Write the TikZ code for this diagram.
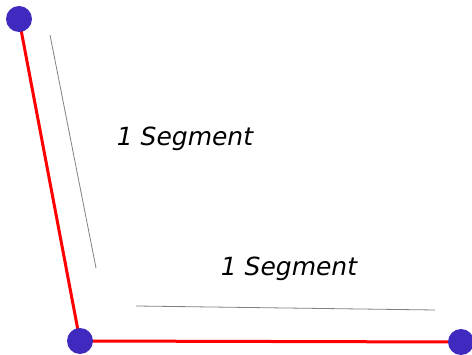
\documentclass[tikz,border=0pt]{standalone}
\usepackage{fontspec}
\setmainfont{DejaVu Sans}
\usepackage{tikz}
\usetikzlibrary{positioning}
\definecolor{dotblue}{RGB}{62,42,190}
\begin{document}
\begin{tikzpicture}[
    x=1pt, y=-1pt,
    vertex/.style={circle, fill=dotblue, inner sep=0pt, minimum size=26pt},
    seg/.style={red, line width=3pt},
    guide/.style={gray, line width=0.8pt},
    lbl/.style={font=\fontsize{25}{28}\selectfont\itshape, inner sep=0pt}
]
\useasboundingbox (0,0) rectangle (472,355);
\coordinate (pa) at (19,19);
\coordinate (pb) at (80,341);
\coordinate (pc) at (461,342);
\draw[seg] (pa) -- (pb) -- (pc);
\node[vertex] (va) at (pa) {};
\node[vertex] (vb) at (pb) {};
\node[vertex] (vc) at (pc) {};
% guide lines along the segments
\coordinate (ga1) at (50,35);
\coordinate (ga2) at (96,268);
\coordinate (gb1) at (136,306);
\coordinate (gb2) at (435,310);
\draw[guide] (ga1) -- (ga2);
\draw[guide] (gb1) -- (gb2);
\node[lbl] (la) at (185,139) {1 Segment};
\node[lbl] (lb) at (289,269) {1 Segment};
\end{tikzpicture}
\end{document}
